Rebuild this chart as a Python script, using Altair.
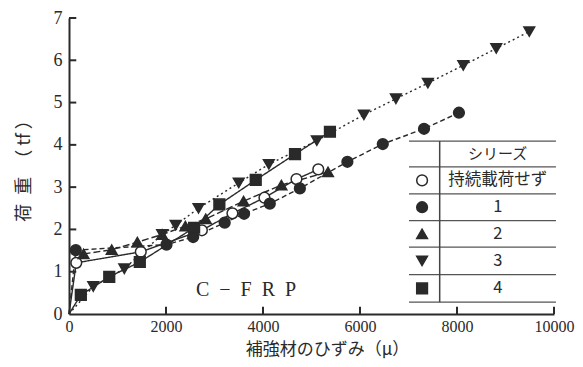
import altair as alt
import pandas as pd

# ---- data ----
series_names = ["持続載荷せず", "1", "2", "3", "4"]

s0_x = [150, 1480, 2740, 3370, 4030, 4690, 5140]
s0_y = [1.21, 1.47, 1.98, 2.38, 2.75, 3.19, 3.42]

s1_x = [140, 2010, 2560, 3210, 3610, 4140, 4760, 5740, 6470, 7320, 8040]
s1_y = [1.51, 1.64, 1.82, 2.16, 2.37, 2.61, 2.97, 3.60, 4.02, 4.38, 4.76]

s2_x = [300, 880, 1410, 1920, 2400, 2820, 3600, 4380, 5340]
s2_y = [1.42, 1.52, 1.70, 1.88, 2.08, 2.25, 2.67, 3.05, 3.36]

s3_x = [500, 1140, 1920, 2200, 2670, 3500, 4120, 5110, 6080, 6740, 7400, 8130, 8810, 9490]
s3_y = [0.65, 1.07, 1.88, 2.10, 2.50, 3.10, 3.54, 4.10, 4.71, 5.09, 5.46, 5.88, 6.28, 6.68]

s4_x = [244, 830, 1460, 2580, 3100, 3850, 4660, 5380]
s4_y = [0.45, 0.88, 1.23, 2.04, 2.59, 3.17, 3.78, 4.31]

# series whose loading curve starts at the origin
origin_start = ["持続載荷せず", "1", "3", "4"]

x_ticks = [0, 2000, 4000, 6000, 8000, 10000]
y_ticks = [0, 1, 2, 3, 4, 5, 6, 7]

all_x = [s0_x, s1_x, s2_x, s3_x, s4_x]
all_y = [s0_y, s1_y, s2_y, s3_y, s4_y]

pts = []
lines = []
for name, xs, ys in zip(series_names, all_x, all_y):
    k = 0
    if name in origin_start:
        lines.append({"series": name, "x": 0, "y": 0, "i": k})
        k += 1
    for a, b in zip(xs, ys):
        pts.append({"series": name, "x": a, "y": b})
        lines.append({"series": name, "x": a, "y": b, "i": k})
        k += 1
pts = pd.DataFrame(pts)
lines = pd.DataFrame(lines)

shapes = ["circle", "circle", "triangle-up", "triangle-down", "square"]
fills = ["white", "#2a2a2a", "#2a2a2a", "#2a2a2a", "#2a2a2a"]
dashes = [[1, 0], [5, 3], [7, 3], [2, 3], [1, 0]]

X = alt.Scale(domain=[0, 10000], nice=False, zero=False)
Y = alt.Scale(domain=[0, 7], nice=False, zero=False)
ink = "#2a2a2a"

line_layer = alt.Chart(lines).mark_line(color=ink, strokeWidth=1.4).encode(
    x=alt.X("x:Q", scale=X,
            axis=alt.Axis(values=x_ticks, format="d", ticks=False, grid=False, domainColor=ink,
                          domainWidth=2, labelFont="Liberation Serif", labelFontSize=16,
                          labelColor=ink, labelPadding=4, labelFlush=False,
                          title="補強材のひずみ（μ）", titleFont="Noto Sans CJK JP",
                          titleFontSize=17, titleFontWeight="normal", titleColor=ink,
                          titleX=258, titleY=44, titleBaseline="bottom")),
    y=alt.Y("y:Q", scale=Y,
            axis=alt.Axis(values=y_ticks, ticks=False, grid=False, domainColor=ink,
                          domainWidth=2, labelFont="Liberation Serif", labelFontSize=18,
                          labelColor=ink, labelPadding=7, labelFlush=False,
                          title="荷\u2002重\u2002（ tf ）", titleFont="Noto Sans CJK JP",
                          titleFontSize=18, titleFontWeight="normal", titleColor=ink,
                          titlePadding=20)),
    detail="series:N",
    order="i:Q",
    strokeDash=alt.StrokeDash("series:N",
                              scale=alt.Scale(domain=series_names, range=dashes),
                              legend=None),
)

point_layer = alt.Chart(pts).mark_point(size=115, opacity=1, strokeWidth=1.5, stroke=ink).encode(
    x=alt.X("x:Q", scale=X),
    y=alt.Y("y:Q", scale=Y),
    shape=alt.Shape("series:N", scale=alt.Scale(domain=series_names, range=shapes), legend=None),
    fill=alt.Fill("series:N", scale=alt.Scale(domain=series_names, range=fills), legend=None),
)

# inward ticks
xt = pd.DataFrame({"x": x_ticks[1:], "y": [0] * 5, "y2": [0.17] * 5})
yt = pd.DataFrame({"y": y_ticks[1:], "x": [0] * 7, "x2": [150] * 7})
xtick_layer = alt.Chart(xt).mark_rule(color=ink, strokeWidth=2).encode(
    x=alt.X("x:Q", scale=X), y=alt.Y("y:Q", scale=Y), y2="y2:Q")
ytick_layer = alt.Chart(yt).mark_rule(color=ink, strokeWidth=2).encode(
    y=alt.Y("y:Q", scale=Y), x=alt.X("x:Q", scale=X), x2="x2:Q")

# legend table (data units)
tab_left, tab_right, tab_div = 7010, 10040, 7643
row_lines = [4.09, 3.48, 2.84, 2.21, 1.58, 0.93, 0.28]
hl = pd.DataFrame({"y": row_lines, "x": [tab_left] * 7, "x2": [tab_right] * 7})
vl = pd.DataFrame({"x": [tab_div], "y": [row_lines[-1]], "y2": [row_lines[0]]})
hl_layer = alt.Chart(hl).mark_rule(color="#555", strokeWidth=1.2).encode(
    y=alt.Y("y:Q", scale=Y), x=alt.X("x:Q", scale=X), x2="x2:Q")
vl_layer = alt.Chart(vl).mark_rule(color="#444", strokeWidth=1.5).encode(
    x=alt.X("x:Q", scale=X), y=alt.Y("y:Q", scale=Y), y2="y2:Q")

row_mid = [(row_lines[j] + row_lines[j + 1]) / 2 for j in range(6)]
header = pd.DataFrame({"x": [8840], "y": [row_mid[0]], "t": ["シリーズ"]})
labels = pd.DataFrame({"x": [8840] * 5, "y": row_mid[1:], "t": series_names})
sym = pd.DataFrame({"x": [7280] * 5, "y": row_mid[1:], "series": series_names})

header_layer = alt.Chart(header).mark_text(font="Noto Sans CJK JP", fontSize=15, color=ink).encode(
    x=alt.X("x:Q", scale=X), y=alt.Y("y:Q", scale=Y), text="t:N")
label_layer = alt.Chart(labels).mark_text(font="Noto Sans CJK JP", fontSize=16.5, color=ink).encode(
    x=alt.X("x:Q", scale=X), y=alt.Y("y:Q", scale=Y), text="t:N")
sym_layer = alt.Chart(sym).mark_point(size=115, opacity=1, strokeWidth=1.5, stroke=ink).encode(
    x=alt.X("x:Q", scale=X), y=alt.Y("y:Q", scale=Y),
    shape=alt.Shape("series:N", scale=alt.Scale(domain=series_names, range=shapes), legend=None),
    fill=alt.Fill("series:N", scale=alt.Scale(domain=series_names, range=fills), legend=None),
)

note = pd.DataFrame({"x": [3650], "y": [0.57], "t": ["C\u2002−\u2002F\u2002R\u2002P"]})
note_layer = alt.Chart(note).mark_text(font="Liberation Serif", fontSize=20, color=ink).encode(
    x=alt.X("x:Q", scale=X), y=alt.Y("y:Q", scale=Y), text="t:N")

chart = alt.layer(
    hl_layer, vl_layer, line_layer, point_layer, xtick_layer, ytick_layer,
    header_layer, label_layer, sym_layer, note_layer,
).properties(
    width=485, height=296,
    autosize=alt.AutoSizeParams(type="none"),
    padding={"left": 61, "top": 10, "right": 21, "bottom": 45},
    background="white",
).configure_view(stroke=None)

chart.save("out.html", embed_options={"renderer": "svg", "actions": False})
